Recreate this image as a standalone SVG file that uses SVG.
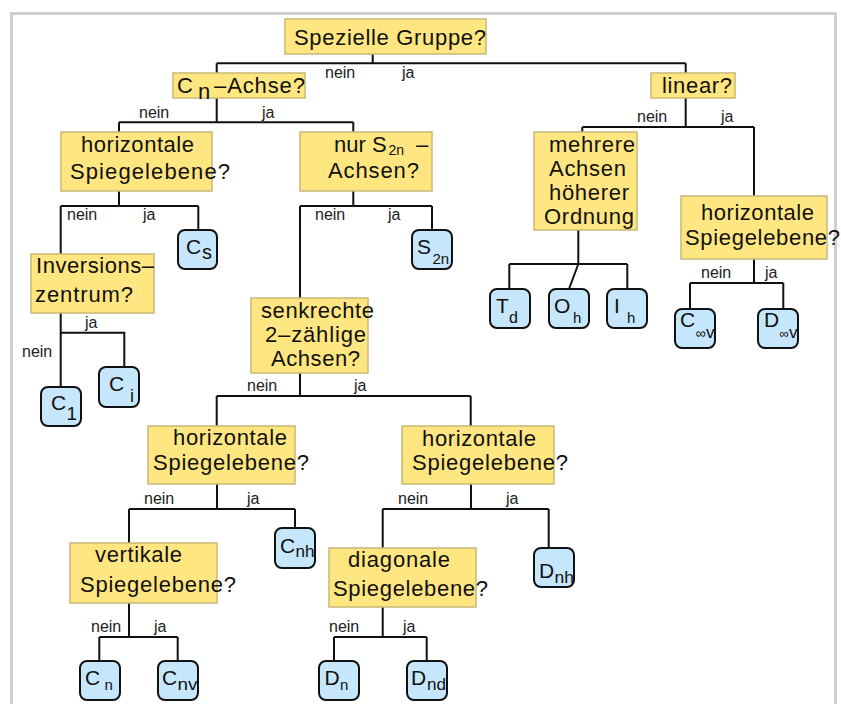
<svg xmlns="http://www.w3.org/2000/svg" width="841" height="704" viewBox="0 0 841 704">
<style>
.q{fill:#ffe680;stroke:#c9b877;stroke-width:1.5}
.r{fill:#c6e6fb;stroke:#111;stroke-width:2}
.c{fill:none;stroke:#111;stroke-width:2}
text{font-family:"Liberation Sans",Arial,sans-serif;fill:#111}
.t{font-size:22px}
.l{font-size:16px;fill:#222}
.m{font-size:21px}
</style>
<rect x="0" y="0" width="841" height="704" fill="#ffffff"/>
<rect x="11.5" y="13.5" width="824" height="710" fill="#ffffff" stroke="#cfcfcf" stroke-width="3"/>

<g id="connectors" class="c">
<path d="M372.7,54V63.3M216.7,63.3H685.7M216.7,63.3V73M685.7,63.3V73"/>
<path d="M216.7,98V122.3M119,122.3H353.3M119,122.3V132M353.3,122.3V132"/>
<path d="M119,191V206M60.7,206H198.3M60.7,206V254M198.3,206V230"/>
<path d="M353.3,191V206M300,206H432M300,206V298M432,206V230"/>
<path d="M60.7,313V387M60.7,332.7H124.3V367"/>
<path d="M300,373V396M216.7,396H470.7M216.7,396V426M470.7,396V426"/>
<path d="M217,484V509M129,509H295M129,509V543M295,509V528"/>
<path d="M129,603V637M99.3,637H177.7M99.3,637V661M177.7,637V661"/>
<path d="M471,484V509M382.7,509H548.7M382.7,509V548M548.7,509V548"/>
<path d="M382.7,607V637M334,637H426.7M334,637V661M426.7,637V661"/>
<path d="M685.7,98V127M582.3,127H754M582.3,127V132M754,127V196"/>
<path d="M578.3,230V264M509.3,264H627.3M509.3,264V289M627.3,264V289M578.3,264L569,289"/>
<path d="M754,259V283M690,283H783.3M690,283V309M783.3,283V309"/>
</g>

<g id="labels">
<text class="l" x="325" y="78">nein</text><text class="l" x="402" y="78">ja</text>
<text class="l" x="139" y="118">nein</text><text class="l" x="262" y="118">ja</text>
<text class="l" x="67" y="220">nein</text><text class="l" x="143" y="220">ja</text>
<text class="l" x="315" y="220">nein</text><text class="l" x="388" y="220">ja</text>
<text class="l" x="85" y="328">ja</text><text class="l" x="22" y="357">nein</text>
<text class="l" x="247" y="391">nein</text><text class="l" x="354" y="391">ja</text>
<text class="l" x="144" y="504">nein</text><text class="l" x="247" y="504">ja</text>
<text class="l" x="398" y="504">nein</text><text class="l" x="506" y="504">ja</text>
<text class="l" x="91" y="632">nein</text><text class="l" x="154" y="632">ja</text>
<text class="l" x="329" y="632">nein</text><text class="l" x="403" y="632">ja</text>
<text class="l" x="637" y="122">nein</text><text class="l" x="721" y="122">ja</text>
<text class="l" x="701" y="278">nein</text><text class="l" x="765" y="278">ja</text>
</g>

<g id="n-root"><rect class="q" x="285" y="19" width="201" height="35"/><text class="t" x="294" y="45" font-size="23" textLength="192" lengthAdjust="spacing">Spezielle Gruppe?</text></g>
<g id="n-cn"><rect class="q" x="173" y="73" width="132" height="25"/><text class="t" x="177" y="93">C</text><text class="t" x="198" y="99" font-size="20">n</text><text class="t" x="214" y="93" textLength="91" lengthAdjust="spacing">–Achse?</text></g>
<g id="n-linear"><rect class="q" x="651" y="73" width="84" height="25"/><text class="t" x="662" y="93" textLength="70" lengthAdjust="spacing">linear?</text></g>
<g id="n-horizL"><rect class="q" x="61" y="132" width="151" height="59"/><text class="t" x="81" y="152" textLength="113" lengthAdjust="spacing">horizontale</text><text class="t" x="70" y="179" textLength="160" lengthAdjust="spacing">Spiegelebene?</text></g>
<g id="n-s2n"><rect class="q" x="300" y="132" width="132" height="59"/><text class="t" x="334" y="152">nur S</text><text x="388.5" y="154.5" font-size="14">2n</text><text class="t" x="416" y="152">–</text><text class="t" x="328" y="178" textLength="91" lengthAdjust="spacing">Achsen?</text></g>
<g id="n-mehrere"><rect class="q" x="534" y="132" width="103" height="98"/><text class="t" x="549" y="152" textLength="86" lengthAdjust="spacing">mehrere</text><text class="t" x="549" y="176" textLength="77" lengthAdjust="spacing">Achsen</text><text class="t" x="549" y="200" textLength="80" lengthAdjust="spacing">höherer</text><text class="t" x="544" y="224" textLength="90" lengthAdjust="spacing">Ordnung</text></g>
<g id="n-horizR"><rect class="q" x="681" y="196" width="146" height="63"/><text class="t" x="701" y="220" textLength="113" lengthAdjust="spacing">horizontale</text><text class="t" x="685" y="245" textLength="155" lengthAdjust="spacing">Spiegelebene?</text></g>
<g id="n-inv"><rect class="q" x="31" y="254" width="123" height="59"/><text class="t" x="36" y="273" textLength="118" lengthAdjust="spacing">Inversions–</text><text class="t" x="35" y="302" textLength="98" lengthAdjust="spacing">zentrum?</text></g>
<g id="n-senk"><rect class="q" x="251" y="298" width="117" height="75"/><text class="t" x="261" y="318" textLength="113" lengthAdjust="spacing">senkrechte</text><text class="t" x="265" y="342" textLength="101" lengthAdjust="spacing">2–zählige</text><text class="t" x="271" y="366" textLength="89" lengthAdjust="spacing">Achsen?</text></g>
<g id="n-horiz2"><rect class="q" x="148" y="426" width="147" height="58"/><text class="t" x="173" y="445" textLength="114" lengthAdjust="spacing">horizontale</text><text class="t" x="153" y="470" textLength="156" lengthAdjust="spacing">Spiegelebene?</text></g>
<g id="n-horiz3"><rect class="q" x="402" y="426" width="152" height="58"/><text class="t" x="422" y="446" textLength="114" lengthAdjust="spacing">horizontale</text><text class="t" x="412" y="470" textLength="156" lengthAdjust="spacing">Spiegelebene?</text></g>
<g id="n-vert"><rect class="q" x="70" y="543" width="147" height="60"/><text class="t" x="95" y="562" textLength="87" lengthAdjust="spacing">vertikale</text><text class="t" x="80" y="592" textLength="156" lengthAdjust="spacing">Spiegelebene?</text></g>
<g id="n-diag"><rect class="q" x="329" y="548" width="147" height="59"/><text class="t" x="348" y="567" textLength="102" lengthAdjust="spacing">diagonale</text><text class="t" x="333" y="596" textLength="155" lengthAdjust="spacing">Spiegelebene?</text></g>

<g id="g-cs"><rect class="r" x="178" y="230" width="39" height="39" rx="7"/><text class="m" x="186" y="254">C</text><text x="202" y="259" font-size="20">s</text></g>
<g id="g-s2n"><rect class="r" x="412" y="230" width="40" height="39" rx="7"/><text class="m" x="417" y="254">S</text><text x="432.5" y="264" font-size="15">2n</text></g>
<g id="g-c1"><rect class="r" x="41" y="387" width="40" height="39" rx="7"/><text class="m" x="51" y="410">C</text><text x="66.5" y="420" font-size="19">1</text></g>
<g id="g-ci"><rect class="r" x="99" y="367" width="40" height="40" rx="7"/><text class="m" x="109" y="391">C</text><text x="130" y="402" font-size="18">i</text></g>
<g id="g-cnh"><rect class="r" x="275" y="528" width="40" height="40" rx="7"/><text class="m" x="280" y="553">C</text><text x="295.5" y="557" font-size="17" textLength="19" lengthAdjust="spacingAndGlyphs">nh</text></g>
<g id="g-dnh"><rect class="r" x="534" y="548" width="40" height="39" rx="7"/><text class="m" x="539" y="578">D</text><text x="554.5" y="583" font-size="17" textLength="19.5" lengthAdjust="spacingAndGlyphs">nh</text></g>
<g id="g-cn"><rect class="r" x="80" y="661" width="40" height="39" rx="7"/><text class="m" x="85" y="685">C</text><text x="104.5" y="690" font-size="15">n</text></g>
<g id="g-cnv"><rect class="r" x="158" y="661" width="40" height="39" rx="7"/><text class="m" x="162" y="685">C</text><text x="177.5" y="690" font-size="17" textLength="20" lengthAdjust="spacingAndGlyphs">nv</text></g>
<g id="g-dn"><rect class="r" x="319" y="661" width="40" height="39" rx="7"/><text class="m" x="324.5" y="685">D</text><text x="340" y="690" font-size="15">n</text></g>
<g id="g-dnd"><rect class="r" x="407" y="661" width="40" height="39" rx="7"/><text class="m" x="411" y="685">D</text><text x="427" y="690" font-size="17" textLength="19" lengthAdjust="spacingAndGlyphs">nd</text></g>
<g id="g-td"><rect class="r" x="490" y="289" width="40" height="39" rx="7"/><text class="m" x="496" y="313">T</text><text x="509" y="323" font-size="16">d</text></g>
<g id="g-oh"><rect class="r" x="549" y="289" width="40" height="39" rx="7"/><text class="m" x="554" y="313">O</text><text x="573" y="323" font-size="15">h</text></g>
<g id="g-ih"><rect class="r" x="607" y="289" width="40" height="39" rx="7"/><text class="m" x="614" y="313">I</text><text x="627" y="323" font-size="15">h</text></g>
<g id="g-cinfv"><rect class="r" x="675" y="309" width="40" height="39" rx="7"/><text class="m" x="680" y="327">C</text><text x="695.5" y="338" font-size="14">∞</text><text x="706" y="338" font-size="17">v</text></g>
<g id="g-dinfv"><rect class="r" x="758" y="309" width="40" height="39" rx="7"/><text class="m" x="764" y="327">D</text><text x="779.5" y="338" font-size="13">∞</text><text x="789" y="338" font-size="17">v</text></g>
</svg>
